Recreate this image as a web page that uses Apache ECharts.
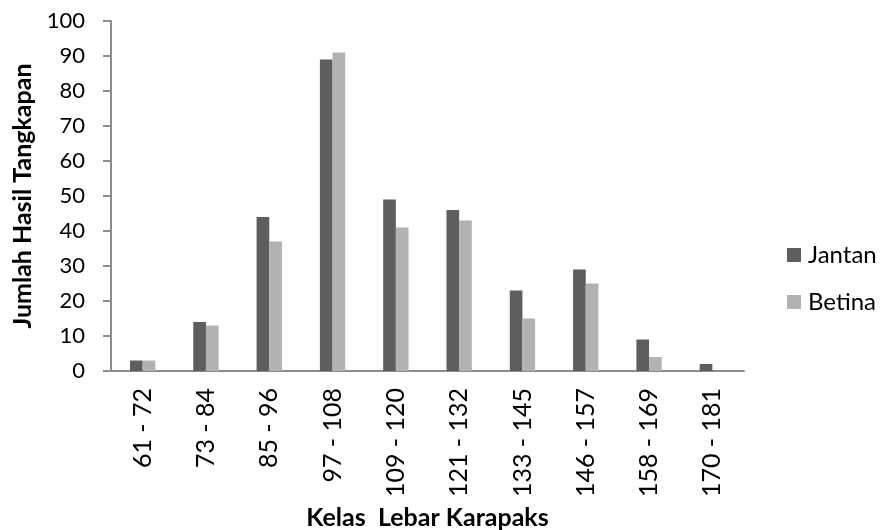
<!DOCTYPE html>
<html>
<head>
<meta charset="utf-8">
<script src="https://cdn.jsdelivr.net/npm/echarts@6/dist/echarts.min.js"></script>
<style>
  html, body { margin: 0; padding: 0; background: #ffffff; }
  #chart { width: 883px; height: 530px; }
</style>
</head>
<body>
<div id="chart"></div>
<script>
// Carapace-width classes and catch counts per sex
const categories = ['61 - 72', '73 - 84', '85 - 96', '97 - 108', '109 - 120',
                    '121 - 132', '133 - 145', '146 - 157', '158 - 169', '170 - 181'];
const jantan = [3, 14, 44, 89, 49, 46, 23, 29, 9, 2];
const betina = [3, 13, 37, 91, 41, 43, 15, 25, 4, 0];
const yTicks = { min: 0, max: 100, interval: 10 };

const FONT = 'Lato, "Open Sans", sans-serif';
const AXIS_GREY = '#8c8c8c';

const chart = echarts.init(document.getElementById('chart'), null, { renderer: 'canvas' });

chart.setOption({
  animation: false,
  textStyle: { fontFamily: FONT, color: '#000' },
  grid: { left: 111, right: 139, top: 21, bottom: 159, containLabel: false, outerBoundsMode: 'none' },
  legend: {
    orient: 'vertical',
    left: 787,
    top: 243,
    padding: 0,
    itemWidth: 14,
    itemHeight: 14,
    itemGap: 23,
    icon: 'rect',
    textStyle: { fontFamily: FONT, fontSize: 24, lineHeight: 24, color: '#000', padding: [0, 0, 0, 2] },
    data: ['Jantan', 'Betina']
  },
  xAxis: {
    type: 'category',
    data: categories,
    name: 'Kelas  Lebar Karapaks',
    nameLocation: 'middle',
    nameGap: 128,
    nameTextStyle: { fontFamily: FONT, fontSize: 25, fontWeight: 'bold', color: '#000' },
    axisLine: { lineStyle: { color: AXIS_GREY, width: 2 } },
    axisTick: { show: false },
    axisLabel: { rotate: 90, margin: 17, fontFamily: FONT, fontSize: 25, color: '#000', interval: 0 }
  },
  yAxis: {
    type: 'value',
    min: yTicks.min,
    max: yTicks.max,
    interval: yTicks.interval,
    name: 'Jumlah Hasil Tangkapan',
    nameLocation: 'middle',
    nameGap: 72,
    nameTextStyle: { fontFamily: FONT, fontSize: 25, fontWeight: 'bold', color: '#000' },
    axisLine: { show: true, lineStyle: { color: AXIS_GREY, width: 2 } },
    axisTick: { show: true, length: 8, lineStyle: { color: AXIS_GREY, width: 2 } },
    splitLine: { show: false },
    axisLabel: { margin: 26, fontFamily: FONT, fontSize: 22, color: '#000' }
  },
  series: [
    {
      name: 'Jantan',
      type: 'bar',
      data: jantan,
      barWidth: '20%',
      barGap: '0%',
      itemStyle: { color: '#5e5e5e' }
    },
    {
      name: 'Betina',
      type: 'bar',
      data: betina,
      barWidth: '20%',
      barGap: '0%',
      itemStyle: { color: '#b2b2b2' }
    }
  ]
});
</script>
</body>
</html>
